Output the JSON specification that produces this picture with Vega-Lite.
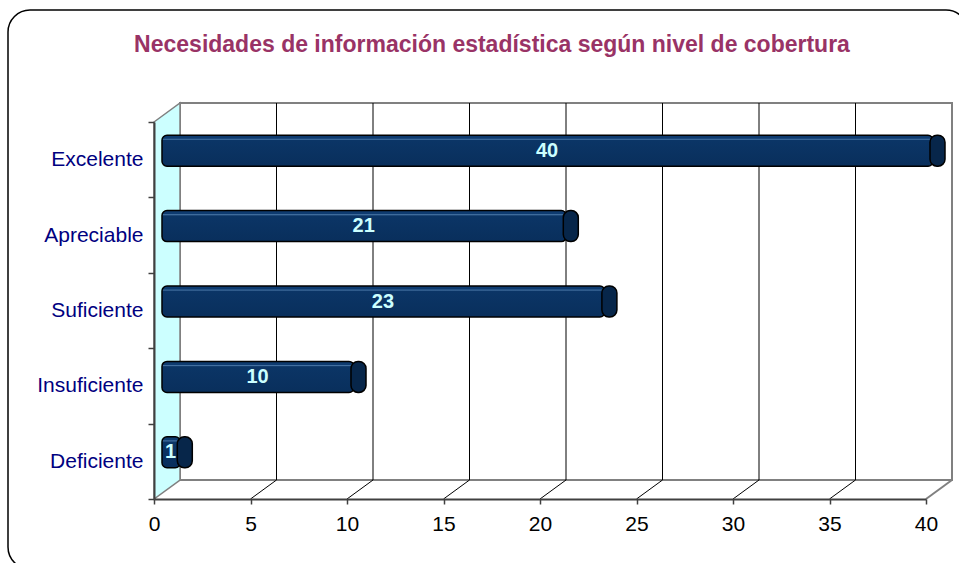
{
  "$schema": "https://vega.github.io/schema/vega-lite/v6.json",
  "width": 960,
  "height": 559,
  "autosize": {"type": "none"},
  "padding": {"left": 8, "top": 10, "right": -9, "bottom": -6},
  "background": "white",
  "config": {"view": {"stroke": "#000000", "strokeWidth": 1.5, "cornerRadius": 22, "fill": "white"}},
  "title": {
    "text": "Necesidades de información estadística según nivel de cobertura",
    "anchor": "middle", "frame": "group", "orient": "top", "offset": -35, "baseline": "middle", "dx": 4, "dy": 34,
    "font": "Liberation Sans", "fontSize": 23, "fontWeight": "bold", "color": "#993366"
  },
  "datasets": {
    "niveles": [
      {"nivel": "Excelente", "n": 40},
      {"nivel": "Apreciable", "n": 21},
      {"nivel": "Suficiente", "n": 23},
      {"nivel": "Insuficiente", "n": 10},
      {"nivel": "Deficiente", "n": 1}
    ],
    "ticks": [{"tick": 5}, {"tick": 10}, {"tick": 15}, {"tick": 20}, {"tick": 25}, {"tick": 30}, {"tick": 35}]
  },
  "layer": [
    {
      "layer": [
        {
          "data": {"values": [{}]},
          "mark": {"type": "rect", "fill": "white", "stroke": "#808080", "strokeWidth": 2, "xOffset": 26, "x2Offset": 26, "yOffset": -19, "y2Offset": -19},
          "encoding": {
            "x": {"datum": 0, "type": "quantitative", "scale": {"domain": [0, 40], "range": [146, 918], "nice": false, "zero": false}, "axis": null},
            "x2": {"datum": 40},
            "y": {"datum": 0, "type": "quantitative", "scale": {"domain": [0, 1], "range": [489, 112], "nice": false, "zero": false}, "axis": null},
            "y2": {"datum": 1}
          }
        },
        {
          "data": {"name": "ticks"},
          "mark": {"type": "rule", "color": "#000000", "strokeWidth": 1, "xOffset": 26, "yOffset": -19, "y2Offset": -19},
          "encoding": {
            "x": {"field": "tick", "type": "quantitative"},
            "y": {"datum": 0, "type": "quantitative"},
            "y2": {"datum": 1}
          }
        },
        {
          "data": {"name": "ticks"},
          "mark": {"type": "rule", "color": "#000000", "strokeWidth": 1, "x2Offset": 26, "y2Offset": -19},
          "encoding": {
            "x": {"field": "tick", "type": "quantitative"},
            "x2": {"field": "tick"},
            "y": {"datum": 0, "type": "quantitative"},
            "y2": {"datum": 0}
          }
        },
        {
          "data": {"values": [{}]},
          "mark": {"type": "rule", "color": "#808080", "strokeWidth": 2, "x2Offset": 26, "y2Offset": -19},
          "encoding": {
            "x": {"datum": 40, "type": "quantitative"},
            "x2": {"datum": 40},
            "y": {"datum": 0, "type": "quantitative"},
            "y2": {"datum": 0}
          }
        },
        {
          "data": {"values": [{}]},
          "mark": {"type": "point", "shape": "M0,-188.5L26,-207.5L26,169.5L0,188.5Z", "size": 4, "filled": true, "fill": "#CCFFFF", "stroke": "#808080", "strokeWidth": 1.5, "opacity": 1, "fillOpacity": 1},
          "encoding": {
            "x": {"datum": 0, "type": "quantitative"},
            "y": {"datum": 0.5, "type": "quantitative"}
          }
        }
      ]
    },
    {
      "data": {"name": "niveles"},
      "layer": [
        {
          "mark": {
            "type": "bar", "size": 31, "yOffset": -9, "xOffset": 7, "x2Offset": 8, "cornerRadius": 5,
            "stroke": "#000000", "strokeWidth": 1.5,
            "fill": {"gradient": "linear", "x1": 0, "y1": 0, "x2": 0, "y2": 1, "stops": [
              {"offset": 0, "color": "#0e3b70"},
              {"offset": 0.1, "color": "#0e3b70"},
              {"offset": 0.13, "color": "#4673a3"},
              {"offset": 0.17, "color": "#0b3566"},
              {"offset": 1, "color": "#092f5c"}
            ]}
          },
          "encoding": {
            "y": {
              "field": "nivel", "type": "nominal",
              "sort": ["Excelente", "Apreciable", "Suficiente", "Insuficiente", "Deficiente"],
              "scale": {"domain": ["Excelente", "Apreciable", "Suficiente", "Insuficiente", "Deficiente"], "range": [112, 489], "paddingInner": 0, "paddingOuter": 0},
              "axis": {
                "orient": "left", "offset": -146, "title": null, "grid": false, "zindex": 1,
                "domainColor": "#404040", "domainWidth": 2, "tickColor": "#404040", "tickWidth": 1.5, "tickSize": 6, "tickBand": "extent",
                "labelFont": "Liberation Sans", "labelFontSize": 21, "labelColor": "#000080", "labelPadding": 5
              }
            },
            "x": {
              "field": "n", "type": "quantitative",
              "scale": {"domain": [0, 40], "range": [146, 918], "nice": false, "zero": false},
              "axis": {
                "orient": "bottom", "offset": -70, "title": null, "grid": false, "zindex": 1,
                "values": [0, 5, 10, 15, 20, 25, 30, 35, 40],
                "domainColor": "#404040", "domainWidth": 2, "tickColor": "#404040", "tickWidth": 1.5, "tickSize": 5,
                "labelFont": "Liberation Sans", "labelFontSize": 21, "labelColor": "#000000", "labelPadding": 9,
                "labelFlush": false, "labelOverlap": false
              }
            },
            "x2": {"datum": 0}
          }
        },
        {
          "mark": {"type": "bar", "size": 31, "yOffset": -9, "xOffset": 4, "x2Offset": 19, "cornerRadius": 7, "fill": "#07264a", "stroke": "#000000", "strokeWidth": 1.5},
          "encoding": {
            "y": {"field": "nivel", "type": "nominal", "sort": ["Excelente", "Apreciable", "Suficiente", "Insuficiente", "Deficiente"]},
            "x": {"field": "n", "type": "quantitative"},
            "x2": {"field": "n"}
          }
        }
      ]
    },
    {
      "data": {"name": "niveles"},
      "mark": {"type": "text", "font": "Liberation Sans", "fontSize": 20, "fontWeight": "bold", "color": "#CCFFFF", "dx": 7, "dy": -9, "baseline": "middle", "align": "center"},
      "encoding": {
        "x": {"field": "n", "type": "quantitative", "scale": {"domain": [0, 80], "range": [146, 918], "nice": false, "zero": false}, "axis": null},
        "y": {"field": "nivel", "type": "nominal", "sort": ["Excelente", "Apreciable", "Suficiente", "Insuficiente", "Deficiente"], "scale": {"type": "band", "domain": ["Excelente", "Apreciable", "Suficiente", "Insuficiente", "Deficiente"], "range": [112, 489], "paddingInner": 0, "paddingOuter": 0}, "axis": null},
        "text": {"field": "n", "type": "quantitative"}
      }
    }
  ],
  "resolve": {"scale": {"x": "independent", "y": "independent"}}
}
